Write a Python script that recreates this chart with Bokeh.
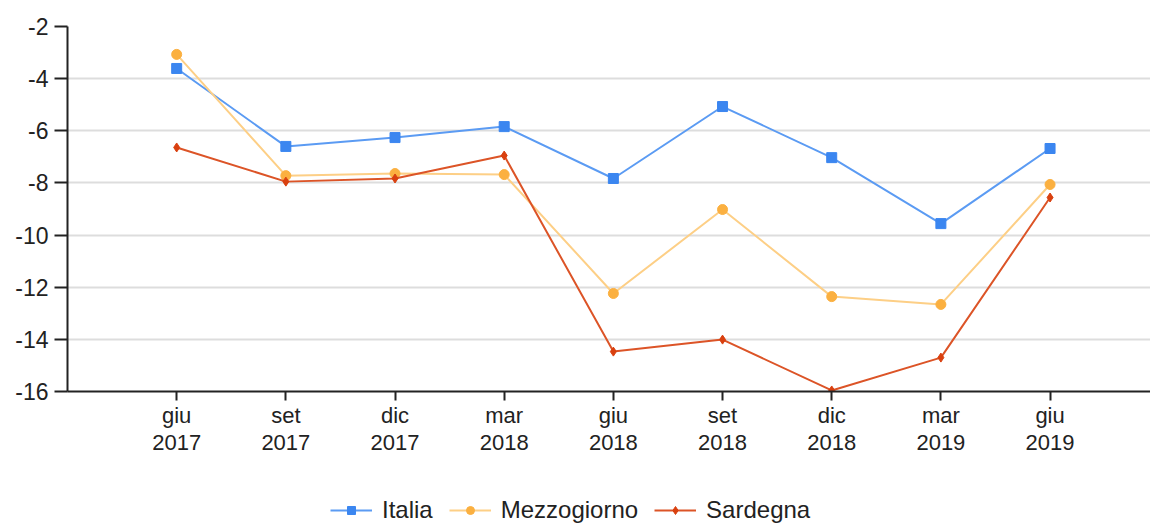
from bokeh.plotting import figure
from bokeh.layouts import column
from bokeh.models import Range1d, FixedTicker, Legend, LegendItem
from bokeh.embed import file_html
from bokeh.resources import INLINE

periods = ["giu\n2017", "set\n2017", "dic\n2017", "mar\n2018", "giu\n2018",
           "set\n2018", "dic\n2018", "mar\n2019", "giu\n2019"]
y_ticks = [-2, -4, -6, -8, -10, -12, -14, -16]
series_names = ["Italia", "Mezzogiorno", "Sardegna"]
italia = [-3.61, -6.60, -6.26, -5.84, -7.83, -5.07, -7.03, -9.56, -6.68]
mezzogiorno = [-3.07, -7.72, -7.64, -7.68, -12.24, -9.02, -12.36, -12.66, -8.06]
sardegna = [-6.64, -7.95, -7.83, -6.95, -14.47, -14.01, -15.96, -14.70, -8.56]

xs = list(range(len(periods)))
series = [italia, mezzogiorno, sardegna]

styles = [
    dict(line="#5b9bf3", mark="#3b86f0", marker="square", size=10),
    dict(line="#fdcf86", mark="#fbb040", marker="circle", size=10),
    dict(line="#dc5427", mark="#d9400f", marker="diamond", size=9),
]

p = figure(width=1150, height=470, output_backend="svg", toolbar_location=None,
           x_range=Range1d(-1, 8.92), y_range=Range1d(-16, -2),
           min_border_left=67, min_border_top=26, min_border_bottom=79, min_border_right=0)
p.outline_line_color = None
p.background_fill_color = "white"

for vals, st in zip(series, styles):
    p.line(xs, vals, line_color=st["line"], line_width=2)
    p.scatter(xs, vals, marker=st["marker"], size=st["size"],
              fill_color=st["mark"], line_color=st["mark"])

p.xaxis.ticker = FixedTicker(ticks=xs)
p.xaxis.major_label_overrides = {i: lab for i, lab in zip(xs, periods)}
p.yaxis.ticker = FixedTicker(ticks=y_ticks)
p.yaxis.major_label_overrides = {t: str(t) for t in y_ticks}
for ax in (p.xaxis, p.yaxis):
    ax.axis_line_color = "#222222"
    ax.axis_line_width = 2
    ax.major_tick_line_color = "#222222"
    ax.major_tick_line_width = 2
    ax.major_tick_in = 0
    ax.minor_tick_line_color = None
    ax.major_label_text_font = "Liberation Sans"
    ax.major_label_text_color = "#222222"
p.yaxis.major_tick_out = 13
p.xaxis.major_tick_out = 9
p.yaxis.major_label_text_font_size = "23px"
p.xaxis.major_label_text_font_size = "22px"
p.xaxis.major_label_text_line_height = 1.1
p.yaxis.major_label_standoff = 6
p.xaxis.major_label_standoff = 2

p.xgrid.grid_line_color = None
p.ygrid.grid_line_color = "#dddddd"
p.ygrid.grid_line_width = 2

# legend strip below the chart (series drawn outside its visible range,
# only so that the legend has glyphs to show)
p2 = figure(width=1150, height=54, output_backend="svg", toolbar_location=None,
            x_range=Range1d(100, 101), y_range=Range1d(100, 101),
            x_axis_type=None, y_axis_type=None,
            min_border_left=0, min_border_right=0, min_border_top=0, min_border_bottom=0)
p2.outline_line_color = None
p2.xgrid.grid_line_color = None
p2.ygrid.grid_line_color = None

items = []
for name, vals, st in zip(series_names, series, styles):
    lr = p2.line(xs, vals, line_color=st["line"], line_width=2)
    mr = p2.scatter(xs, vals, marker=st["marker"], size=st["size"] - 3,
                    fill_color=st["mark"], line_color=st["mark"])
    items.append(LegendItem(label=name, renderers=[lr, mr]))

legend = Legend(items=items, orientation="horizontal", location=(263, 0),
                label_text_font="Liberation Sans", label_text_font_size="24px",
                label_text_color="#222222", glyph_width=42, glyph_height=20,
                spacing=16, padding=0, margin=0, border_line_color=None,
                background_fill_alpha=0, label_standoff=10)
p2.add_layout(legend, "center")

open("out.html", "w").write(file_html(column(p, p2), INLINE))
